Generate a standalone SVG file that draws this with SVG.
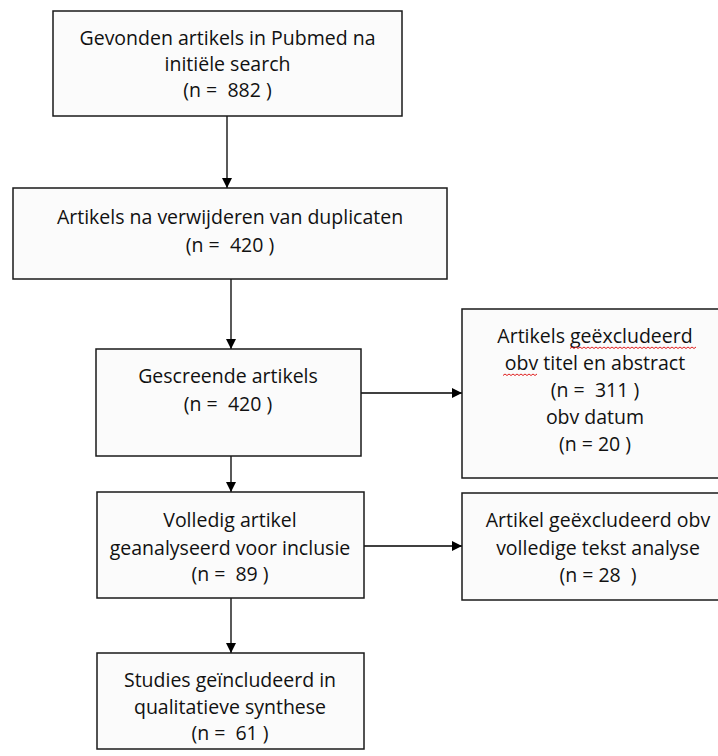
<svg xmlns="http://www.w3.org/2000/svg" width="718" height="756" viewBox="0 0 718 756">
<defs>
<style>
.box{fill:#fbfbfb;stroke:#1a1a1a;stroke-width:1.5}
.t{font-family:"Open Sans","Noto Sans",sans-serif;font-size:19.5px;fill:#111;text-anchor:middle;white-space:pre}
.c{stroke:#000;stroke-width:1.3;fill:none}
.sq{stroke:#e02020;stroke-width:1;fill:none}
</style>
<marker id="ah" viewBox="0 0 10 10" refX="10" refY="5" markerWidth="10" markerHeight="10" markerUnits="userSpaceOnUse" orient="auto">
<path d="M0,0 L10,5 L0,10 z" fill="#000"/>
</marker>
</defs>
<rect width="718" height="756" fill="#fff"/>
<g id="connectors">
<line class="c" x1="227" y1="116" x2="227" y2="188" marker-end="url(#ah)"/>
<line class="c" x1="231" y1="279" x2="231" y2="349" marker-end="url(#ah)"/>
<line class="c" x1="361" y1="393" x2="462" y2="393" marker-end="url(#ah)"/>
<line class="c" x1="231" y1="456" x2="231" y2="492" marker-end="url(#ah)"/>
<line class="c" x1="364" y1="546" x2="462" y2="546" marker-end="url(#ah)"/>
<line class="c" x1="231" y1="598" x2="231" y2="653" marker-end="url(#ah)"/>
</g>
<g id="n1">
<rect class="box" x="53" y="11" width="349" height="105"/>
<text class="t" x="227.5" y="45">Gevonden artikels in Pubmed na</text>
<text class="t" x="227.5" y="71">initiële search</text>
<text class="t" x="227.5" y="97" xml:space="preserve">(n =  882 )</text>
</g>
<g id="n2">
<rect class="box" x="13" y="188" width="434" height="91"/>
<text class="t" x="230" y="224">Artikels na verwijderen van duplicaten</text>
<text class="t" x="230" y="252" xml:space="preserve">(n =  420 )</text>
</g>
<g id="n3">
<rect class="box" x="96" y="349" width="265" height="107"/>
<text class="t" x="228" y="383">Gescreende artikels</text>
<text class="t" x="228" y="411" xml:space="preserve">(n =  420 )</text>
</g>
<g id="n4">
<rect class="box" x="462" y="309" width="270" height="169"/>
<text class="t" x="595" y="343">Artikels geëxcludeerd</text>
<text class="t" x="595" y="370">obv titel en abstract</text>
<text class="t" x="595" y="397" xml:space="preserve">(n =  311 )</text>
<text class="t" x="595" y="424">obv datum</text>
<text class="t" x="595" y="451">(n = 20 )</text>
<path class="sq" d="M570,348.5 l2,-1.5 l2,1.5 l2,-1.5 l2,1.5 l2,-1.5 l2,1.5 l2,-1.5 l2,1.5 l2,-1.5 l2,1.5 l2,-1.5 l2,1.5 l2,-1.5 l2,1.5 l2,-1.5 l2,1.5 l2,-1.5 l2,1.5 l2,-1.5 l2,1.5 l2,-1.5 l2,1.5 l2,-1.5 l2,1.5 l2,-1.5 l2,1.5 l2,-1.5 l2,1.5 l2,-1.5 l2,1.5 l2,-1.5 l2,1.5 l2,-1.5 l2,1.5 l2,-1.5 l2,1.5 l2,-1.5 l2,1.5 l2,-1.5 l2,1.5 l2,-1.5 l2,1.5 l2,-1.5 l2,1.5 l2,-1.5 l2,1.5 l2,-1.5 l2,1.5 l2,-1.5 l2,1.5 l2,-1.5 l2,1.5 l2,-1.5 l2,1.5 l2,-1.5 l2,1.5 l2,-1.5 l2,1.5 l2,-1.5 l2,1.5 l2,-1.5 l2,1.5 l2,-1.5"/>
<path class="sq" d="M503,375.5 l2,-1.5 l2,1.5 l2,-1.5 l2,1.5 l2,-1.5 l2,1.5 l2,-1.5 l2,1.5 l2,-1.5 l2,1.5 l2,-1.5 l2,1.5 l2,-1.5 l2,1.5 l2,-1.5 l2,1.5 l2,-1.5"/>
</g>
<g id="n5">
<rect class="box" x="97" y="492" width="267" height="106"/>
<text class="t" x="230" y="527">Volledig artikel</text>
<text class="t" x="230" y="555">geanalyseerd voor inclusie</text>
<text class="t" x="230" y="581" xml:space="preserve">(n =  89 )</text>
</g>
<g id="n6">
<rect class="box" x="462" y="493" width="270" height="107"/>
<text class="t" x="598" y="527">Artikel geëxcludeerd obv</text>
<text class="t" x="598" y="555">volledige tekst analyse</text>
<text class="t" x="598" y="582" xml:space="preserve">(n = 28  )</text>
</g>
<g id="n7">
<rect class="box" x="97" y="653" width="267" height="96"/>
<text class="t" x="230" y="687">Studies geïncludeerd in</text>
<text class="t" x="230" y="714">qualitatieve synthese</text>
<text class="t" x="230" y="740" xml:space="preserve">(n =  61 )</text>
</g>
</svg>
